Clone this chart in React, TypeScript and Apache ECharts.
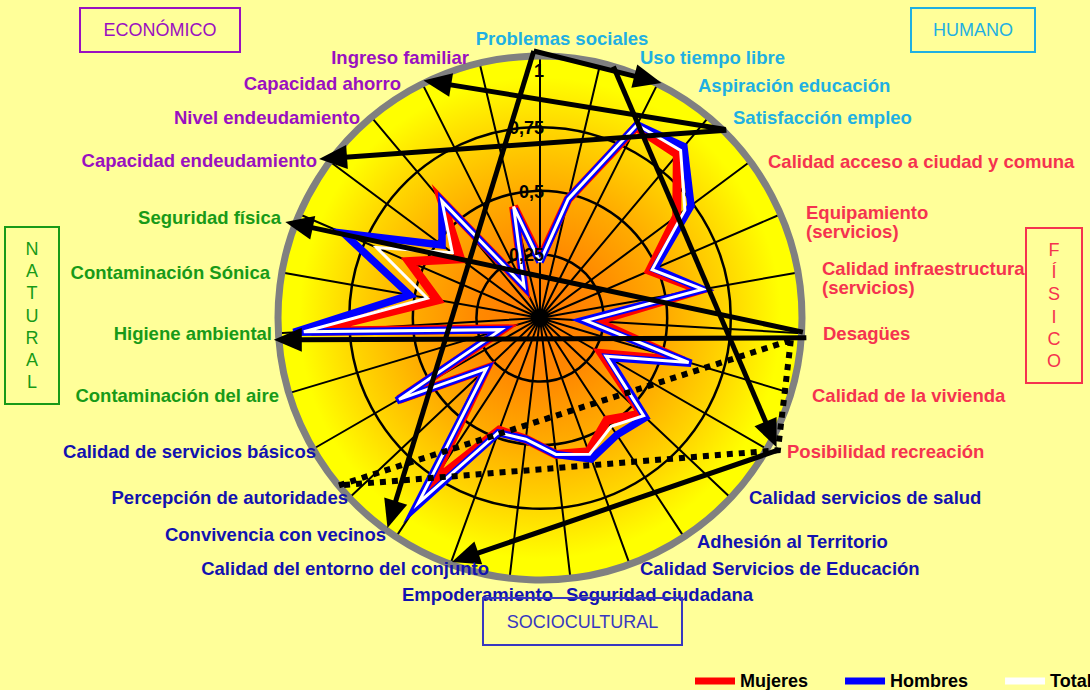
import React, { useEffect, useRef } from 'react';
import * as echarts from 'echarts';

// ---------- DATA ----------
const CATEGORIES = [
  'Problemas sociales', 'Uso tiempo libre', 'Aspiración educación', 'Satisfacción empleo',
  'Calidad acceso a ciudad y comuna', 'Equipamiento\n(servicios)', 'Calidad infraestructura\n(servicios)',
  'Desagües', 'Calidad de la vivienda', 'Posibilidad recreación',
  'Calidad servicios de salud', 'Adhesión al Territorio', 'Calidad Servicios de Educación',
  'Seguridad ciudadana', 'Empoderamiento', 'Calidad del entorno del conjunto',
  'Convivencia con vecinos', 'Percepción de autoridades', 'Calidad de servicios básicos',
  'Contaminación del aire', 'Higiene ambiental', 'Contaminación Sónica', 'Seguridad física',
  'Capacidad endeudamiento', 'Nivel endeudamiento', 'Capacidad ahorro', 'Ingreso familiar',
];
const CATEGORY_GROUP = [
  'HUMANO', 'HUMANO', 'HUMANO', 'HUMANO',
  'FISICO', 'FISICO', 'FISICO', 'FISICO', 'FISICO', 'FISICO',
  'SOCIO', 'SOCIO', 'SOCIO', 'SOCIO', 'SOCIO', 'SOCIO', 'SOCIO', 'SOCIO', 'SOCIO',
  'NATURAL', 'NATURAL', 'NATURAL', 'NATURAL',
  'ECONOMICO', 'ECONOMICO', 'ECONOMICO', 'ECONOMICO',
];
const SERIES_NAMES = ['Mujeres', 'Hombres', 'Total'];
const MUJERES = [0.23, 0.48, 0.84, 0.84, 0.67, 0.47, 0.64, 0.22, 0.59, 0.28, 0.55, 0.48, 0.56, 0.54, 0.48, 0.47, 0.78, 0.29, 0.64, 0.15, 0.90, 0.41, 0.56, 0.39, 0.60, 0.14, 0.45];
const HOMBRES = [0.22, 0.48, 0.85, 0.88, 0.74, 0.49, 0.65, 0.17, 0.62, 0.31, 0.57, 0.55, 0.59, 0.54, 0.48, 0.48, 0.89, 0.29, 0.65, 0.16, 0.97, 0.52, 0.84, 0.48, 0.60, 0.14, 0.44];
const TOTAL = [0.22, 0.48, 0.85, 0.86, 0.71, 0.48, 0.65, 0.18, 0.61, 0.30, 0.56, 0.51, 0.57, 0.54, 0.48, 0.48, 0.87, 0.29, 0.64, 0.16, 0.93, 0.45, 0.70, 0.43, 0.60, 0.14, 0.45];
const RADIUS_TICKS = [0.25, 0.5, 0.75, 1];
const RADIUS_TICK_LABELS = ['0,25', '0,5', '0,75', '1'];
const RADIUS_MAX = 1.03;

// Annotation arrows: [fromRadius, fromCategoryPosition, toRadius, toCategoryPosition]
const ARROWS = [
  [1.05, 26.9, 1.02, 16.2],
  [1.05, 26.9, 1.04, 2.05],
  [1.03, 1.22, 1.06, 8.9],
  [1.04, 3.34, 1.04, 25.04],
  [1.04, 3.36, 1.07, 22.93],
  [1.035, 6.98, 1.07, 21.8],
  [1.05, 7.07, 1.05, 19.9],
  [1.07, 8.93, 1.02, 14.99],
];
// Dotted triangle: [radius, categoryPosition]
const DOTTED_TRIANGLE = [[0.99, 7.13], [1.07, 8.93], [1.03, 17.27]];

// ---------- LAYOUT / STYLE ----------
const FONT = '"Liberation Sans", Arial, Helvetica, sans-serif';
const GROUP_COLORS: Record<string, string> = {
  HUMANO: '#1FB0E2', FISICO: '#F5334F', SOCIO: '#1212B0', NATURAL: '#189A18', ECONOMICO: '#9A10C0',
};
const SERIES_COLORS = ['#FF0000', '#0000FF', '#FFFFFF'];
const SERIES_WIDTHS = [9, 7.5, 3];
const LABEL_LAYOUT: [number, number, string][] = [
  [562, 38, 'center'], [640, 57, 'left'], [698, 85, 'left'], [733, 117, 'left'],
  [768, 161, 'left'], [806, 222, 'left'], [822, 278, 'left'], [823, 333, 'left'],
  [812, 395, 'left'], [787, 451, 'left'], [749, 497, 'left'], [697, 541, 'left'],
  [640, 568, 'left'], [566, 594, 'left'], [553, 594, 'right'], [489, 568, 'right'],
  [386, 534, 'right'], [348, 497, 'right'], [316, 451, 'right'], [279, 395, 'right'],
  [272, 333, 'right'], [270, 272, 'right'], [281, 217, 'right'], [317, 160, 'right'],
  [360, 117, 'right'], [401, 83, 'right'], [469, 57, 'right'],
];
const BOXES = [
  { text: 'ECONÓMICO', x: 80, y: 8, w: 160, h: 44, color: '#9A10C0', vertical: false },
  { text: 'HUMANO', x: 911, y: 8, w: 124, h: 44, color: '#1FB0E2', vertical: false },
  { text: 'NATURAL', x: 5, y: 227, w: 54, h: 177, color: '#189A18', vertical: true },
  { text: 'FÍSICO', x: 1026, y: 228, w: 56, h: 155, color: '#F5334F', vertical: true },
  { text: 'SOCIOCULTURAL', x: 483, y: 598, w: 199, h: 47, color: '#3838C0', vertical: false },
];
const CENTER = [540, 318];
const RADIUS_PX = 262;

export default function App() {
  const ref = useRef<HTMLDivElement>(null);
  useEffect(() => {
    const chart = echarts.init(ref.current!, null, { renderer: 'svg' });
    const closed = (vals: number[]) => [...vals.map((v, i) => [v, i]), [vals[0], CATEGORIES.length]];
    const data = [MUJERES, HOMBRES, TOTAL];

    chart.setOption({
      animation: false,
      backgroundColor: '#FFFF99',
      polar: { center: CENTER, radius: RADIUS_PX },
      angleAxis: {
        type: 'value', min: 0, max: CATEGORIES.length, interval: 1, startAngle: 90, clockwise: true,
        axisLine: { show: true, lineStyle: { color: '#808080', width: 7 } },
        axisTick: { show: false },
        axisLabel: { show: false },
        splitLine: { show: true, lineStyle: { color: '#000', width: 2 } },
      },
      radiusAxis: {
        type: 'value', min: 0, max: RADIUS_MAX, interval: 0.25,
        axisLine: { show: false }, axisTick: { show: false }, axisLabel: { show: false },
        splitLine: {
          show: true,
          lineStyle: { color: ['#000', '#000', '#000', '#000', 'rgba(0,0,0,0)', 'rgba(0,0,0,0)'], width: 2.5 },
        },
      },
      legend: {
        data: SERIES_NAMES, left: 690, top: 667, width: 500, icon: 'rect', itemWidth: 40, itemHeight: 7, itemGap: 37,
        textStyle: { color: '#000', fontWeight: 'bold', fontSize: 18, fontFamily: FONT },
      },
      series: SERIES_NAMES.map((name, k) => ({
        name, type: 'line', coordinateSystem: 'polar', data: closed(data[k]), symbol: 'none',
        color: SERIES_COLORS[k], clip: false, silent: true,
        lineStyle: { width: SERIES_WIDTHS[k], color: SERIES_COLORS[k], join: 'miter', miterLimit: 6 },
      })),
    });

    const toPx = (r: number, a: number): number[] => {
      let p: any = null;
      try { p = chart.convertToPixel({ polarIndex: 0 } as any, [r, a]); } catch (e) { p = null; }
      if (!p || !isFinite(p[0])) {
        const ang = (a / CATEGORIES.length) * Math.PI * 2;
        const rr = (r / RADIUS_MAX) * RADIUS_PX;
        p = [CENTER[0] + rr * Math.sin(ang), CENTER[1] - rr * Math.cos(ang)];
      }
      return p as number[];
    };

    const c = toPx(0, 0);
    const e = toPx(RADIUS_MAX, 0);
    const R = Math.hypot(e[0] - c[0], e[1] - c[1]);
    const elements: any[] = [];
    elements.push({
      type: 'circle', silent: true, z: -10,
      shape: { cx: c[0], cy: c[1], r: R },
      style: {
        fill: {
          type: 'radial', x: 0.5, y: 0.5, r: 0.5,
          colorStops: [
            { offset: 0, color: '#FF7800' },
            { offset: 0.25, color: '#FF8A00' },
            { offset: 0.5, color: '#FFAE00' },
            { offset: 0.75, color: '#FFDC00' },
            { offset: 0.92, color: '#FFFF00' },
            { offset: 1, color: '#FFFF00' },
          ],
        },
      },
    });

    const HEAD_LEN = 28, HEAD_HW = 12;
    ARROWS.forEach(([r1, a1, r2, a2]) => {
      const p1 = toPx(r1, a1), p2 = toPx(r2, a2);
      const L = Math.hypot(p2[0] - p1[0], p2[1] - p1[1]);
      const dx = (p2[0] - p1[0]) / L, dy = (p2[1] - p1[1]) / L;
      const bx = p2[0] - dx * HEAD_LEN, by = p2[1] - dy * HEAD_LEN;
      elements.push({
        type: 'line', silent: true, z: 20,
        shape: { x1: p1[0], y1: p1[1], x2: bx + dx * 2, y2: by + dy * 2 },
        style: { stroke: '#000', lineWidth: 5 },
      });
      elements.push({
        type: 'polygon', silent: true, z: 20,
        shape: { points: [[p2[0], p2[1]], [bx - dy * HEAD_HW, by + dx * HEAD_HW], [bx + dy * HEAD_HW, by - dx * HEAD_HW]] },
        style: { fill: '#000' },
      });
    });

    const tri = DOTTED_TRIANGLE.map(([r, a]) => toPx(r, a));
    elements.push({
      type: 'polygon', silent: true, z: 20,
      shape: { points: tri },
      style: { fill: 'none', stroke: '#000', lineWidth: 6, lineDash: [6, 6] },
    });

    RADIUS_TICKS.forEach((v, i) => {
      const p = toPx(v, 0);
      elements.push({
        type: 'text', silent: true, z: 25, x: p[0] + 4, y: p[1] + (v === 1 ? 7 : 1),
        style: {
          text: RADIUS_TICK_LABELS[i], fill: '#000', fontSize: 18, fontWeight: 'bold', fontFamily: FONT,
          align: 'right', textAlign: 'right', verticalAlign: 'middle', textVerticalAlign: 'middle',
        },
      });
    });

    CATEGORIES.forEach((name, i) => {
      const [x, y, align] = LABEL_LAYOUT[i];
      elements.push({
        type: 'text', silent: true, z: 30, x, y,
        style: {
          text: name, fill: GROUP_COLORS[CATEGORY_GROUP[i]], fontSize: 18.5, fontWeight: 'bold', fontFamily: FONT,
          align, textAlign: align, verticalAlign: 'middle', textVerticalAlign: 'middle', lineHeight: 19,
        },
      });
    });

    BOXES.forEach((b) => {
      elements.push({
        type: 'rect', silent: true, z: 30,
        shape: { x: b.x, y: b.y, width: b.w, height: b.h },
        style: { fill: 'none', stroke: b.color, lineWidth: 2 },
      });
      elements.push({
        type: 'text', silent: true, z: 30, x: b.x + b.w / 2, y: b.y + b.h / 2,
        style: {
          text: b.vertical ? b.text.split('').join('\n') : b.text,
          fill: b.color, fontSize: 18, fontFamily: FONT, lineHeight: b.vertical ? 22.3 : 20,
          align: 'center', textAlign: 'center', verticalAlign: 'middle', textVerticalAlign: 'middle',
        },
      });
    });

    chart.setOption({ graphic: { elements } });
    return () => chart.dispose();
  }, []);
  return <div ref={ref} style={{ position: 'fixed', left: 0, top: 0, width: 1090, height: 690 }} />;
}
